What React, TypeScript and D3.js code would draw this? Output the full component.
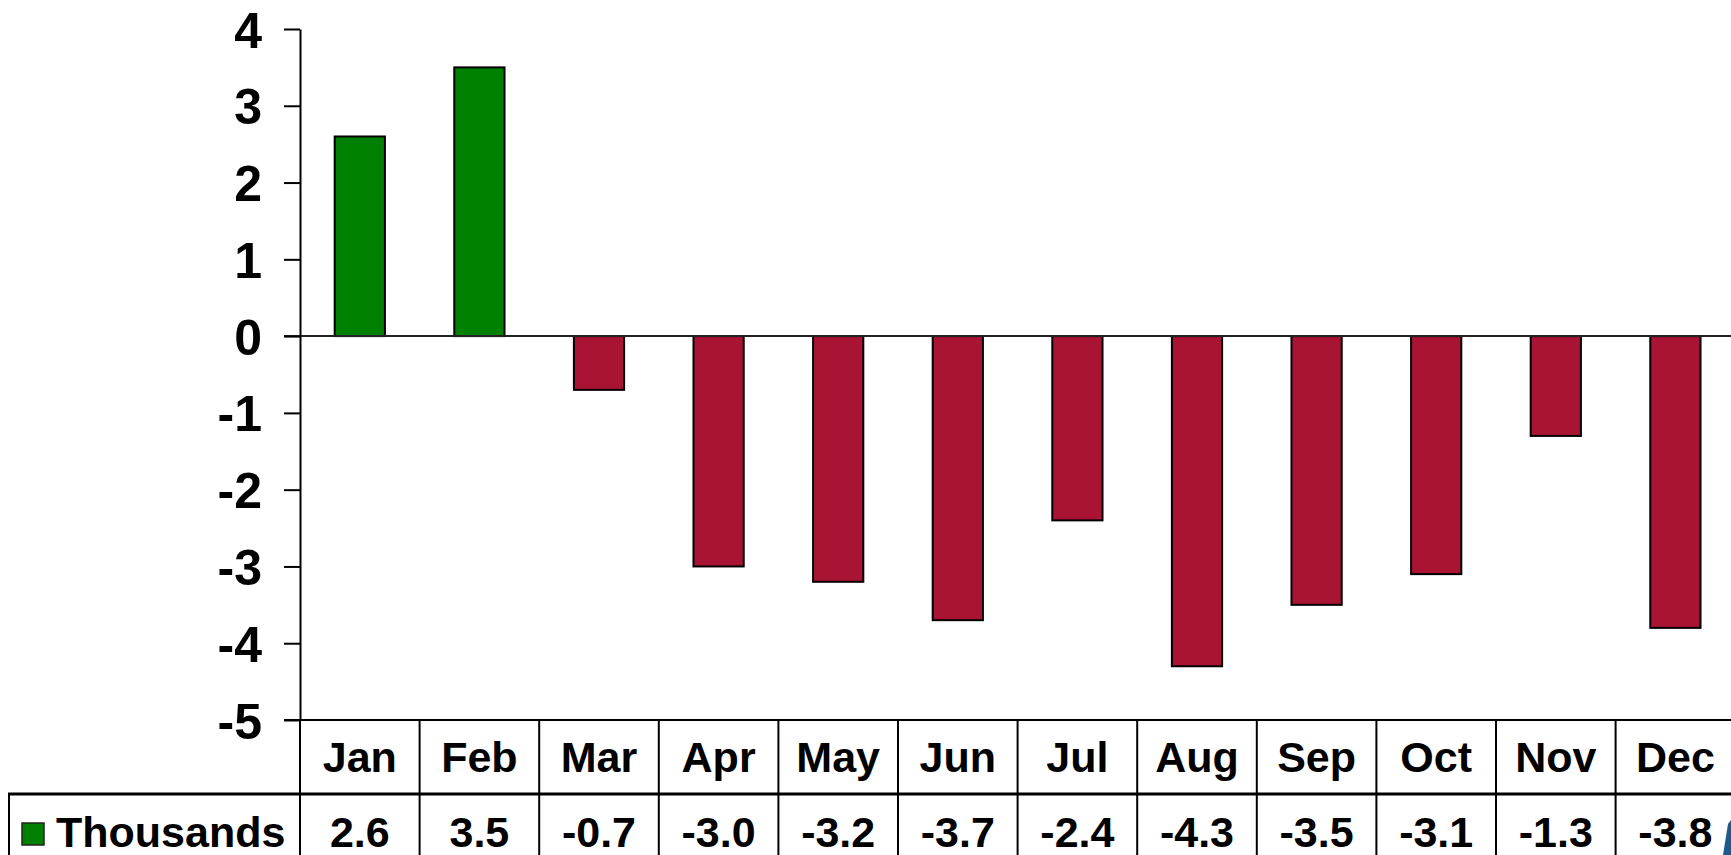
import React, { useRef, useEffect } from 'react'
import * as d3 from 'd3'

const months = ['Jan', 'Feb', 'Mar', 'Apr', 'May', 'Jun', 'Jul', 'Aug', 'Sep', 'Oct', 'Nov', 'Dec']
const thousands = [2.6, 3.5, -0.7, -3.0, -3.2, -3.7, -2.4, -4.3, -3.5, -3.1, -1.3, -3.8]
const yTicks = [4, 3, 2, 1, 0, -1, -2, -3, -4, -5]
const seriesName = 'Thousands'

const WIDTH = 1731
const HEIGHT = 855
const FONT = '"Liberation Sans", Arial, sans-serif'

export default function App() {
  const svgRef = useRef<SVGSVGElement>(null)

  useEffect(() => {
    if (!svgRef.current) return
    document.body.style.margin = '0'
    const svg = d3.select(svgRef.current)
    svg.selectAll('*').remove()

    const axisX = 300
    const colW = 119.6
    const tableTop = 720
    const rowSplit = 794

    const x = d3.scaleBand<string>()
      .domain(months)
      .range([axisX, axisX + colW * months.length])
      .padding(0)

    const y = d3.scaleLinear()
      .domain([-5, 4])
      .range([tableTop, 29])

    const barW = x.bandwidth() * 0.42

    // bars
    svg.append('g')
      .selectAll('rect')
      .data(thousands)
      .enter()
      .append('rect')
      .attr('x', (d, i) => x(months[i])! + (x.bandwidth() - barW) / 2)
      .attr('y', d => y(Math.max(0, d)))
      .attr('width', barW)
      .attr('height', d => Math.abs(y(d) - y(0)))
      .attr('fill', d => d >= 0 ? '#008000' : '#A91434')
      .attr('stroke', '#000')
      .attr('stroke-width', 2)

    // zero line
    svg.append('line')
      .attr('x1', axisX - 16).attr('x2', WIDTH)
      .attr('y1', y(0)).attr('y2', y(0))
      .attr('stroke', '#222').attr('stroke-width', 2)

    // y axis
    const yAxis = d3.axisLeft(y)
      .tickValues(yTicks)
      .tickSize(16)
      .tickSizeOuter(0)
      .tickPadding(22)
      .tickFormat(d => String(d))

    const gy = svg.append('g')
      .attr('transform', `translate(${axisX},0)`)
      .call(yAxis)
    gy.select('.domain').attr('stroke', '#000').attr('stroke-width', 2)
    gy.selectAll('.tick line').attr('stroke', '#000').attr('stroke-width', 2)
    gy.selectAll('.tick text')
      .attr('fill', '#000')
      .style('font-family', FONT)
      .style('font-size', '50px')
      .style('font-weight', 'bold')
      .attr('dy', '0.36em')

    // data table
    const table = svg.append('g')
    table.append('line')
      .attr('x1', axisX - 16).attr('x2', WIDTH)
      .attr('y1', tableTop).attr('y2', tableTop)
      .attr('stroke', '#000').attr('stroke-width', 2)
    table.append('line')
      .attr('x1', 8).attr('x2', WIDTH)
      .attr('y1', rowSplit).attr('y2', rowSplit)
      .attr('stroke', '#000').attr('stroke-width', 3)
    table.append('line')
      .attr('x1', 9).attr('x2', 9)
      .attr('y1', rowSplit).attr('y2', HEIGHT)
      .attr('stroke', '#000').attr('stroke-width', 2)
    table.append('line')
      .attr('x1', axisX).attr('x2', axisX)
      .attr('y1', tableTop).attr('y2', HEIGHT)
      .attr('stroke', '#000').attr('stroke-width', 2)

    table.selectAll('.col')
      .data(months)
      .enter()
      .append('line')
      .attr('class', 'col')
      .attr('x1', d => x(d)! + x.bandwidth())
      .attr('x2', d => x(d)! + x.bandwidth())
      .attr('y1', tableTop).attr('y2', HEIGHT)
      .attr('stroke', '#000').attr('stroke-width', 2)

    table.selectAll('.mon')
      .data(months)
      .enter()
      .append('text')
      .attr('class', 'mon')
      .attr('x', d => x(d)! + x.bandwidth() / 2)
      .attr('y', (tableTop + rowSplit) / 2)
      .attr('dy', '0.36em')
      .attr('text-anchor', 'middle')
      .style('font-family', FONT)
      .style('font-size', '43px')
      .style('font-weight', 'bold')
      .text(d => d)

    table.selectAll('.val')
      .data(thousands)
      .enter()
      .append('text')
      .attr('class', 'val')
      .attr('x', (d, i) => x(months[i])! + x.bandwidth() / 2)
      .attr('y', 832)
      .attr('dy', '0.36em')
      .attr('text-anchor', 'middle')
      .style('font-family', FONT)
      .style('font-size', '43px')
      .style('font-weight', 'bold')
      .text(d => d.toFixed(1))

    // legend key
    table.append('rect')
      .attr('x', 22).attr('y', 823)
      .attr('width', 22).attr('height', 22)
      .attr('fill', '#008000')
      .attr('stroke', '#222').attr('stroke-width', 1.5)
    table.append('text')
      .attr('x', 56).attr('y', 832)
      .attr('dy', '0.36em')
      .style('font-family', FONT)
      .style('font-size', '43px')
      .style('font-weight', 'bold')
      .text(seriesName)

    // corner logo fragment
    svg.append('path')
      .attr('d', `M${WIDTH - 8},${HEIGHT} L${WIDTH - 3},824 L${WIDTH},820 L${WIDTH},${HEIGHT} Z`)
      .attr('fill', '#1d5a8c')
  }, [])

  return (
    <svg
      ref={svgRef}
      width={WIDTH}
      height={HEIGHT}
      style={{ position: 'absolute', left: 0, top: 0, background: '#fff' }}
    />
  )
}
